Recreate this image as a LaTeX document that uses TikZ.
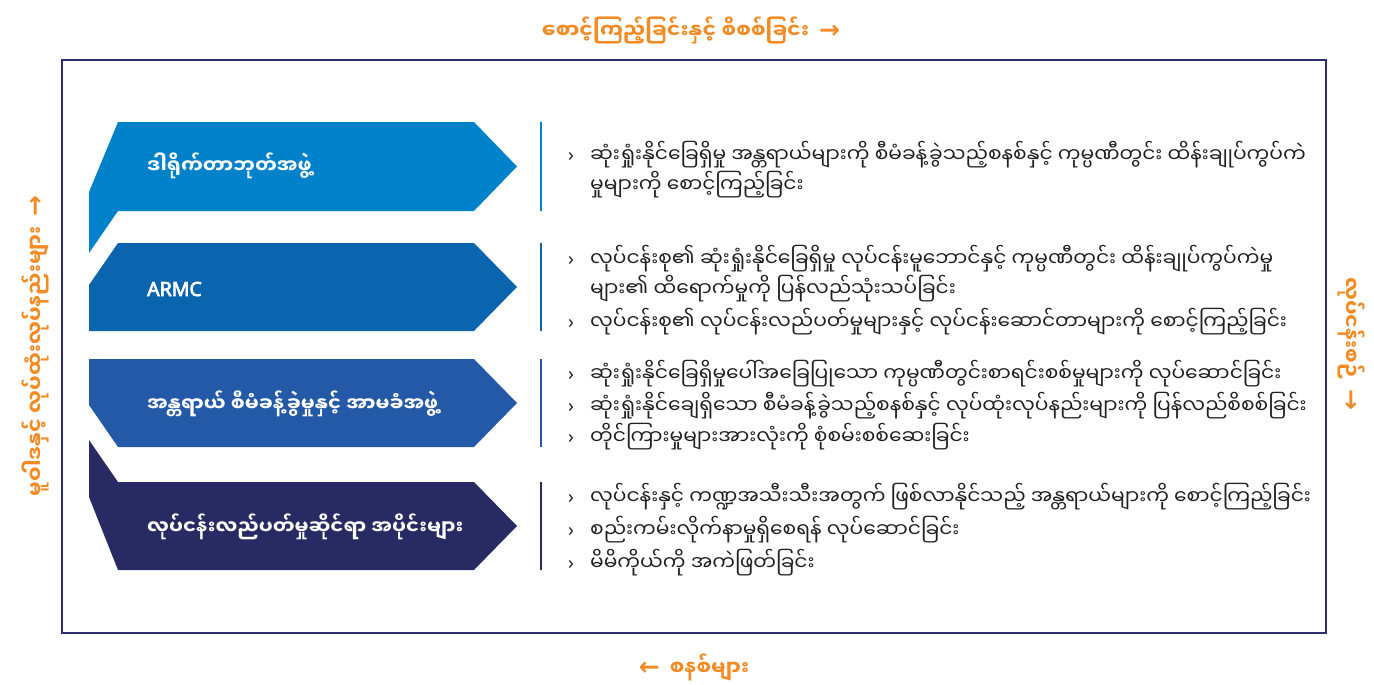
\documentclass[tikz,border=0pt]{standalone}
\usepackage{fontspec}
\setmainfont{Noto Sans}
\newfontfamily\mmfont[Script=Myanmar]{Noto Sans Myanmar UI}
\newfontfamily\arrowfont{DejaVu Sans}
\newfontfamily\armcfont[FakeBold=3.5]{Noto Sans}
\usetikzlibrary{positioning}

\definecolor{sideorange}{RGB}{243,139,36}
\definecolor{framenavy}{RGB}{44,45,107}
\definecolor{boardblue}{RGB}{0,130,202}
\definecolor{armcblue}{RGB}{11,101,174}
\definecolor{riskblue}{RGB}{36,89,168}
\definecolor{opsnavy}{RGB}{39,42,99}
\definecolor{bodygrey}{RGB}{35,31,32}

\newcommand\sidearrow[1]{{\arrowfont\bfseries\fontsize{25}{25}\selectfont #1}}

\tikzset{
  boxlabel/.style={anchor=base west, inner sep=0pt, text=white,
    font=\mmfont\bfseries\fontsize{19.6}{22}\selectfont},
  itemtext/.style={anchor=base west, inner sep=0pt, text=bodygrey,
    font=\mmfont\fontsize{20.2}{24}\selectfont},
  itemmark/.style={anchor=base west, inner sep=0pt, text=bodygrey,
    font=\fontsize{19}{22}\selectfont},
  sidelabel/.style={inner sep=0pt, text=sideorange,
    font=\mmfont\bfseries\fontsize{20.5}{24}\selectfont},
  sidebar/.style={line width=2.2pt}
}

\begin{document}
\begin{tikzpicture}[x=1pt,y=-1pt]
\useasboundingbox (0,0) rectangle (1374,685);

% frame
\draw[framenavy, line width=2.5pt] (62,60) rectangle (1326,633);

% side labels
\node[sidelabel] (toplbl) at (691,30) {စောင့်ကြည့်ခြင်းနှင့် စိစစ်ခြင်း\hspace{10pt}\sidearrow{→}};
\node[sidelabel, rotate=-90] (rightlbl) at (1352,344) {လုပ်ငန်းစဉ်\hspace{10pt}\sidearrow{→}};
\node[sidelabel] (bottomlbl) at (694,667) {\sidearrow{←}\hspace{10pt}စနစ်များ};
\node[sidelabel, rotate=90] (leftlbl) at (35,346) {မူဝါဒနှင့် လုပ်ထုံးလုပ်နည်းများ\hspace{10pt}\sidearrow{→}};

% folds on the left
\fill[boardblue] (118,122) -- (89,192) -- (89,253) -- (118,211) -- cycle;
\fill[armcblue] (118,243) -- (89,285) -- (89,331) -- (118,331) -- cycle;
\fill[riskblue] (89,359) -- (118,359) -- (118,447) -- (89,405) -- cycle;
\fill[opsnavy] (89,440) -- (118,482) -- (118,570) -- (89,497) -- cycle;

% chevrons
\fill[boardblue] (118,122) -- (474,122) -- (517,166.5) -- (474,211) -- (118,211) -- cycle;
\fill[armcblue] (118,243) -- (474,243) -- (517,287) -- (474,331) -- (118,331) -- cycle;
\fill[riskblue] (118,359) -- (474,359) -- (517,403) -- (474,447) -- (118,447) -- cycle;
\fill[opsnavy] (118,482) -- (474,482) -- (517,526) -- (474,570) -- (118,570) -- cycle;

\node[boxlabel] (board) at (147,173) {ဒါရိုက်တာဘုတ်အဖွဲ့};
\node[boxlabel, font=\armcfont\fontsize{19.5}{22}\selectfont] (armc) at (147,296) {ARMC};
\node[boxlabel] (risk) at (147,411) {အန္တရာယ် စီမံခန့်ခွဲမှုနှင့် အာမခံအဖွဲ့};
\node[boxlabel] (ops) at (147,534) {လုပ်ငန်းလည်ပတ်မှုဆိုင်ရာ အပိုင်းများ};

% bars
\draw[sidebar, boardblue] (541,122) -- (541,211);
\draw[sidebar, armcblue] (541,243) -- (541,331);
\draw[sidebar, riskblue] (541,359) -- (541,447);
\draw[sidebar, opsnavy] (541,482) -- (541,570);

% item marks
\foreach \y [count=\i] in {161,265,328,380,412,443,503,536,569}
  \node[itemmark] (mark\i) at (568,\y) {›};

% items
\node[itemtext] (b1a) at (590,162) {ဆုံးရှုံးနိုင်ခြေရှိမှု အန္တရာယ်များကို စီမံခန့်ခွဲသည့်စနစ်နှင့် ကုမ္ပဏီတွင်း ထိန်းချုပ်ကွပ်ကဲ};
\node[itemtext] (b1b) at (590,192) {မှုများကို စောင့်ကြည့်ခြင်း};

\node[itemtext] (b2a) at (590,266) {လုပ်ငန်းစု၏ ဆုံးရှုံးနိုင်ခြေရှိမှု လုပ်ငန်းမူဘောင်နှင့် ကုမ္ပဏီတွင်း ထိန်းချုပ်ကွပ်ကဲမှု};
\node[itemtext] (b2b) at (590,296) {များ၏ ထိရောက်မှုကို ပြန်လည်သုံးသပ်ခြင်း};
\node[itemtext] (b2c) at (590,329) {လုပ်ငန်းစု၏ လုပ်ငန်းလည်ပတ်မှုများနှင့် လုပ်ငန်းဆောင်တာများကို စောင့်ကြည့်ခြင်း};

\node[itemtext] (b3a) at (590,381) {ဆုံးရှုံးနိုင်ခြေရှိမှုပေါ်အခြေပြုသော ကုမ္ပဏီတွင်းစာရင်းစစ်မှုများကို လုပ်ဆောင်ခြင်း};
\node[itemtext] (b3b) at (590,413) {ဆုံးရှုံးနိုင်ချေရှိသော စီမံခန့်ခွဲသည့်စနစ်နှင့် လုပ်ထုံးလုပ်နည်းများကို ပြန်လည်စိစစ်ခြင်း};
\node[itemtext] (b3c) at (590,444) {တိုင်ကြားမှုများအားလုံးကို စုံစမ်းစစ်ဆေးခြင်း};

\node[itemtext] (b4a) at (590,504) {လုပ်ငန်းနှင့် ကဏ္ဍအသီးသီးအတွက် ဖြစ်လာနိုင်သည့် အန္တရာယ်များကို စောင့်ကြည့်ခြင်း};
\node[itemtext] (b4b) at (590,537) {စည်းကမ်းလိုက်နာမှုရှိစေရန် လုပ်ဆောင်ခြင်း};
\node[itemtext] (b4c) at (590,570) {မိမိကိုယ်ကို အကဲဖြတ်ခြင်း};
\end{tikzpicture}
\end{document}
